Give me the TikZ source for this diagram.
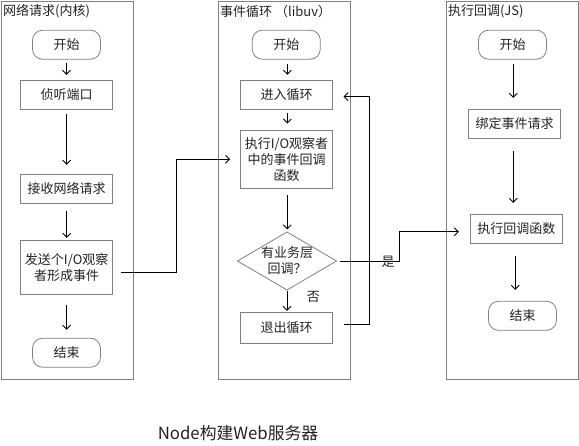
\documentclass[tikz,border=0pt]{standalone}
\usepackage{fontspec}
\setmainfont{Noto Sans CJK SC}
\usetikzlibrary{arrows.meta,shapes.geometric}
\definecolor{bord}{HTML}{808080}
\definecolor{txt}{HTML}{222222}
\begin{document}
\begin{tikzpicture}[x=1pt,y=-1pt,
 lane/.style={draw=bord, line width=0.8pt},
 box/.style={draw=bord, line width=0.8pt, minimum width=92pt, minimum height=29pt, inner sep=0pt, align=center, text=txt, font=\fontsize{13}{16}\selectfont},
 term/.style={box, rounded corners=10pt, minimum width=68pt},
 arr/.style={draw=black, line width=0.9pt, -{Straight Barb[length=4pt,width=8pt]}},
 lanetitle/.style={anchor=west, text=txt, inner sep=0pt, font=\fontsize{13}{16}\selectfont},
 lbl/.style={text=txt, inner sep=0pt, font=\fontsize{13}{16}\selectfont}]
\useasboundingbox (0,0) rectangle (579,446);
% lanes
\draw[lane] (1,1) rectangle (133,379);
\draw[lane] (218,1) rectangle (350,379);
\draw[lane] (446,1) rectangle (578,379);
\node[lanetitle] (t1) at (3,11.5) {网络请求(内核)};
\node[lanetitle] (t2) at (220,11.5) {事件循环 （libuv）};
\node[lanetitle] (t3) at (448,11.5) {执行回调(JS)};
% lane 1
\node[term] (s1) at (66.5,44.7) {开始};
\node[box] (n1) at (66.7,94.7) {侦听端口};
\node[box] (n2) at (66.7,188.7) {接收网络请求};
\node[box, minimum height=54pt] (n3) at (66.7,267.3) {发送个I/O观察\\者形成事件};
\node[term] (e1) at (66.5,352.7) {结束};
% lane 2
\node[term] (s2) at (286.3,44.7) {开始};
\node[box] (m1) at (286.5,94.7) {进入循环};
\node[box, minimum height=58.7pt] (m2) at (286.5,159.3) {执行I/O观察者\\中的事件回调\\函数};
\node[diamond, draw=bord, line width=0.8pt, minimum width=99.4pt, minimum height=58.3pt, inner sep=0pt] (d) at (287,261) {};
\node[lbl, align=center] (dt) at (d) {有业务层\\回调？};
\node[box, minimum height=31pt] (m3) at (286.5,327.8) {退出循环};
% lane 3
\node[term] (s3) at (512.5,44.7) {开始};
\node[box, minimum width=92.4pt] (k1) at (514.5,123.8) {绑定事件请求};
\node[box] (k2) at (516.3,228.8) {执行回调函数};
\node[term] (e3) at (522.5,315.8) {结束};
% vertical arrows
\draw[arr, shorten <=3pt, shorten >=5pt] (s1.south) -- (s1.south |- n1.north);
\draw[arr, shorten <=4pt, shorten >=9pt] (n1.south) -- (n1.south |- n2.north);
\draw[arr, shorten <=7pt, shorten >=2pt] (n2.south) -- (n2.south |- n3.north);
\draw[arr, shorten <=10pt, shorten >=8pt] (n3.south) -- (n3.south |- e1.north);
\draw[arr, shorten <=4pt, shorten >=5pt] ([xshift=1pt]s2.south) -- ([xshift=1pt]s2.south |- m1.north);
\draw[arr, shorten <=3pt, shorten >=6pt] ([xshift=0.8pt]m1.south) -- ([xshift=0.8pt]m1.south |- m2.north);
\draw[arr, shorten <=6pt, shorten >=2pt] ([xshift=0.8pt]m2.south) -- ([xshift=0.8pt]m2.south |- d.north);
\draw[arr, shorten >=1pt] (d.south) -- (d.south |- m3.north);
\draw[arr, shorten <=4pt, shorten >=11pt] ([xshift=0.8pt]s3.south) -- ([xshift=0.8pt]s3.south |- k1.north);
\draw[arr, shorten <=12pt, shorten >=11pt] ([xshift=-1.2pt]k1.south) -- ([xshift=-1.2pt]k1.south |- k2.north);
\draw[arr, shorten <=12pt, shorten >=11pt] ([xshift=-1pt]k2.south) -- ([xshift=-1pt]k2.south |- e3.north);
% cross-lane connectors
\draw[arr] ([xshift=8pt,yshift=-5.4pt]n3.east) -- ++(55,0) |- ([xshift=-10pt]m2.west);
\draw[arr] ([xshift=3pt]d.east) -- ++(59,0) |- ([xshift=-11pt,yshift=-3pt]k2.west);
\draw[arr] ([xshift=10.6pt,yshift=3.5pt]m3.east) -- ++(26.4,0) |- ([xshift=10.6pt,yshift=-2pt]m1.east);
% labels
\node[lbl] (yes) at (388,262) {是};
\node[lbl] (no) at (313.3,296.7) {否};
\node[text=txt, inner sep=0pt, font=\fontsize{16.8}{20}\selectfont] (cap) at (238,433) {Node构建Web服务器};
\end{tikzpicture}
\end{document}
